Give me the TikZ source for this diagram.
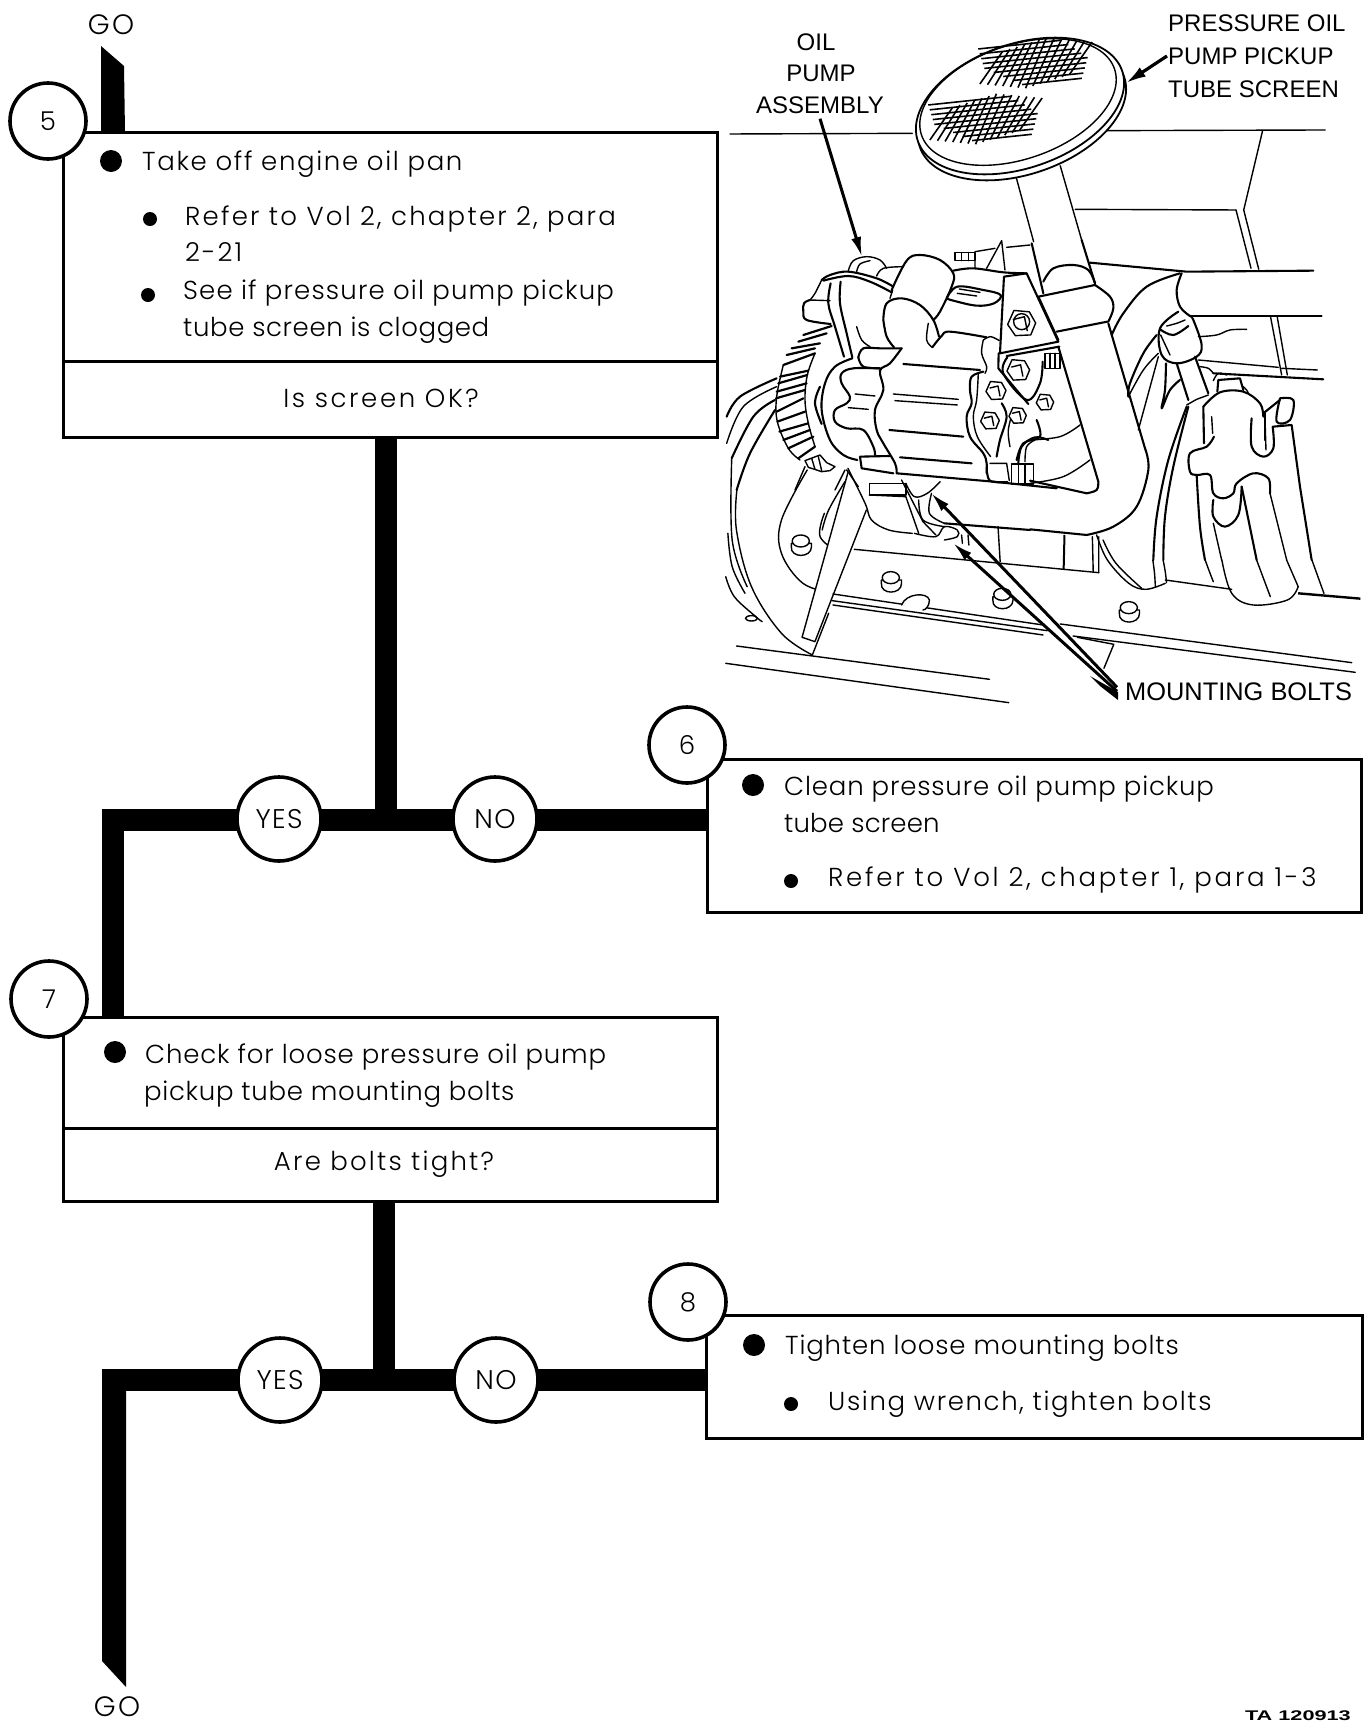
\documentclass[tikz,border=0pt]{standalone}
\usepackage{fontspec}
\usetikzlibrary{arrows.meta}
\setmainfont{Poppins Light}
\newfontfamily\lab{Liberation Sans}
\newfontfamily\tafont[FakeStretch=1.55]{Liberation Sans Bold}
\newcommand{\ls}[1]{\addfontfeature{LetterSpace=#1}}
\tikzset{
 flow/.style={line width=22pt,line cap=butt,line join=miter},
 boxx/.style={draw,line width=3pt,fill=white},
 num/.style={circle,draw,line width=3.6pt,fill=white,minimum size=76pt,inner sep=0pt,font=\fontsize{26}{26}\selectfont},
 ans/.style={circle,draw,line width=3.6pt,fill=white,minimum size=84pt,inner sep=0pt,font=\fontsize{27}{27}\selectfont\ls{5}},
 tx/.style={anchor=base west,inner sep=0pt,font=\fontsize{26}{26}\selectfont},
 cx/.style={anchor=center,inner sep=0pt,font=\fontsize{26}{26}\selectfont},
 big/.style={fill=black,circle,inner sep=0pt,minimum size=22pt},
 small/.style={fill=black,circle,inner sep=0pt,minimum size=14pt},
 gotx/.style={inner sep=0pt,font=\fontsize{28}{28}\selectfont\ls{8}},
 lbl/.style={inner sep=1pt,font=\lab\fontsize{24}{24}\selectfont},
 ill/.style={line width=1.4pt,line cap=round,line join=round},
 thk/.style={line width=2.1pt,line cap=round,line join=round},
 illf/.style={ill,fill=white},
 lead/.style={line width=3pt,-{Latex[length=20pt,width=10pt]}},
 zoneA/.style={shift={(700,0)},x=0.4288pt,y=-0.3333pt},
 zoneB/.style={shift={(700,380)},x=0.4288pt,y=-0.3333pt},
 zoneC/.style={shift={(720,240)},x=0.3333pt,y=-0.3333pt},
 zoneD/.style={shift={(1030,240)},x=0.3333pt,y=-0.3333pt},
}
\newcommand{\curv}[1]{\draw[ill] plot[smooth,tension=.6] coordinates {#1};}
\newcommand{\curt}[1]{\draw[thk] plot[smooth,tension=.6] coordinates {#1};}
\newcommand{\hexz}[3]{\draw[illf] (#1-#3,#2+.15*#3)--(#1-.55*#3,#2-.85*#3)--(#1+.55*#3,#2-.75*#3)--(#1+#3,#2+.05*#3)--(#1+.65*#3,#2+.9*#3)--(#1-.45*#3,#2+.95*#3)--cycle; \draw[ill] (#1-.6*#3,#2-.2*#3)--(#1+.2*#3,#2-.4*#3)--(#1+.4*#3,#2+.6*#3);}
\begin{document}
\begin{tikzpicture}[x=1pt,y=-1pt]
\useasboundingbox (0,0) rectangle (1369,1722);
\fill[white] (0,0) rectangle (1369,1722);

% ---------- flow lines ----------
\fill (101,46) -- (124,66) -- (125,132) -- (101,132) -- cycle;
\draw[flow] (386,436) -- (386,820);
\draw[flow] (706,820) -- (102,820);
\draw[flow] (113,809) -- (113,1016);
\draw[flow] (384,1200) -- (384,1380);
\draw[flow] (706,1380) -- (102,1380);
\fill (102,1369) -- (126,1369) -- (126,1687) -- (102,1661) -- cycle;

% ---------- boxes ----------
\node[boxx,minimum width=654pt,minimum height=305pt,anchor=north west] (b5) at (62,131) {};
\draw[line width=3pt] (62,361) -- (716,361);
\node[boxx,minimum width=654pt,minimum height=153pt,anchor=north west] (b6) at (706,758) {};
\node[boxx,minimum width=654pt,minimum height=184pt,anchor=north west] (b7) at (62,1016) {};
\draw[line width=3pt] (62,1128) -- (716,1128);
\node[boxx,minimum width=656pt,minimum height=123pt,anchor=north west] (b8) at (705,1314) {};

% ---------- circles ----------
\node[num] (c5) at (48,121) {5};
\node[num] (c6) at (687,745) {6};
\node[num] (c7) at (49,999) {7};
\node[num] (c8) at (688,1302) {8};
\node[ans] (y1) at (279,819) {YES};
\node[ans] (n1) at (495,819) {NO};
\node[ans] (y2) at (280,1380) {YES};
\node[ans] (n2) at (496,1380) {NO};

% ---------- GO ----------
\node[gotx] (go1) at (111,25) {GO};
\node[gotx] (go2) at (117,1707) {GO};

% ---------- text ----------
\node[big] (d5) at (111,161) {};
\node[tx] (t51) at (142,170) {\ls{6.3}Take off engine oil pan};
\node[small] (d51) at (150,219) {};
\node[tx] (t52) at (185,225) {\ls{8.6}Refer to Vol 2, chapter 2, para};
\node[tx] (t53) at (185,261) {\ls{8}2-21};
\node[small] (d52) at (148,295) {};
\node[tx] (t54) at (183,299) {\ls{4.5}See if pressure oil pump pickup};
\node[tx] (t55) at (183,336) {\ls{2.4}tube screen is clogged};
\node[cx] (q5) at (381,398) {\ls{10}Is screen OK?};

\node[big] (d6) at (753,785) {};
\node[tx] (t61) at (784,795) {\ls{3.2}Clean pressure oil pump pickup};
\node[tx] (t62) at (784,832) {\ls{0.6}tube screen};
\node[small] (d61) at (791,881) {};
\node[tx] (t63) at (828,886) {\ls{10.7}Refer to Vol 2, chapter 1, para 1-3};

\node[big] (d7) at (115,1052) {};
\node[tx] (t71) at (145,1063) {\ls{3.2}Check for loose pressure oil pump};
\node[tx] (t72) at (144,1100) {\ls{2.7}pickup tube mounting bolts};
\node[cx] (q7) at (384,1164) {\ls{8.5}Are bolts tight?};

\node[big] (d8) at (754,1345) {};
\node[tx] (t81) at (785,1354) {\ls{3.2}Tighten loose mounting bolts};
\node[small] (d81) at (791,1404) {};
\node[tx] (t82) at (828,1410) {\ls{6.3}Using wrench, tighten bolts};

\node[font=\tafont\fontsize{14}{14}\selectfont,anchor=base east,inner sep=0pt] (ta) at (1351,1720) {TA 120913};

% ---------- illustration: wall and stem ----------
\begin{scope}[zoneA]
\draw[ill] (70,402)--(495,400);
\draw[ill] (945,392)--(1458,390);
\draw[ill] (738,535)--(778,725);
\draw[ill] (840,497)--(890,720);
\draw[ill] (875,628)--(1250,630);
\draw[ill] (1312,392)--(1268,630)--(1303,808);
\draw[ill] (1250,630)--(1285,805);
\end{scope}

% ---------- screen ----------
\draw[illf,line width=1.8pt] (1022,112) ellipse [x radius=108,y radius=62,rotate=19];
\draw[illf,line width=1.8pt] (1020,106) ellipse [x radius=108,y radius=62,rotate=19];
\draw[ill] (1018,102) ellipse [x radius=102,y radius=57,rotate=19];
\foreach \cx/\cy in {1036/63,986/119}{
\begin{scope}[shift={(\cx,\cy)},rotate=6]
 \foreach \i in {-4,...,4}{
   \draw[line width=1.6pt] ({-52+abs(\i)*4+\i*5},{\i*5}) -- ({52-abs(\i)*4+\i*2},{\i*5});
 }
 \foreach \i in {-6,...,6}{
   \draw[line width=1.6pt] ({\i*7.5+13},{-24+abs(\i)*1.5}) -- ({\i*7.5-13},{24-abs(\i)*1.5});
 }
\end{scope}}

% ---------- pump, left ----------
\begin{scope}[zoneC]
% small bolt and blade
\draw[illf] (705,38) rectangle (765,62);
\draw[ill] (725,38)--(725,62) (745,38)--(745,62);
\draw[ill] (765,35)--(825,25) (765,62)--(765,85);
\draw[illf] (800,85)--(845,2)--(855,90);
\draw[ill] (860,22)--(930,15);
% top lumps and band
\curv{(385,92)(400,62)(440,50)(480,60)(500,85)}
\curv{(410,95)(420,72)(450,62)}
\curv{(470,108)(490,85)(550,80)}
\curt{(305,120)(330,105)(385,95)(470,115)(520,140)}
\curt{(310,122)(385,108)(450,125)(515,157)}
\curv{(305,120)(285,160)(270,180)}
\curt{(270,180)(252,190)(250,215)(260,240)(332,252)}
\draw[ill] (270,180)--(330,182);
\curt{(332,130)(325,190)(345,260)(372,350)}
\curt{(362,125)(360,190)(380,280)(397,352)}
\curv{(410,260)(425,300)(450,320)}
% big lobes
\curt{(515,150)(560,62)(600,45)(660,60)(700,100)(695,140)(660,215)(640,240)}
\curt{(490,240)(500,190)(545,175)(600,195)(640,240)(657,290)}
\curt{(490,240)(500,290)(522,322)}
\curv{(625,250)(620,300)(637,322)}
\draw[ill] (510,175)--(518,150);
\curt{(700,92)(760,85)(850,97)(920,100)}
\curt{(680,175)(712,140)(790,150)(842,165)(822,190)(770,197)(700,182)(680,175)}
\draw[ill] (718,147)--(780,157) (712,160)--(770,168);
% bracket
\draw[thk] (852,110)--(920,100)--(1015,305)--(840,340)--cycle;
\draw[thk] (1018,320)--(860,348);
\draw[thk] (836,340)--(835,385)--(925,492);
\curt{(862,352)(850,400)(920,480)(960,430)(968,365)}
\hexz{905}{247}{42}
\draw[ill] (905,245) circle [radius=24];
\hexz{895}{388}{34}
\draw[illf] (975,340) rectangle (1020,385);
\draw[ill] (990,340)--(990,385) (1005,340)--(1005,385);
% fin body
\curt{(637,322)(665,288)(690,275)(800,292)}
\curv{(790,300)(812,290)(838,302)}
\curv{(790,300)(785,340)(800,380)(795,400)}
\draw[thk] (550,372)--(780,390);
\draw[ill] (520,462)--(715,478) (525,482)--(712,495) (405,462)--(465,468) (385,503)--(445,508);
\draw[thk] (508,570)--(730,590);
\draw[thk] (540,652)--(755,670);
% scallops
\curt{(415,352)(430,325)(480,325)(545,325)}
\curt{(415,352)(430,380)(480,385)}
\curt{(545,325)(510,370)(480,392)(490,450)(465,510)(470,570)(490,610)(525,670)(530,700)}
\curt{(480,385)(400,385)(365,400)(365,430)(390,470)(380,490)(345,510)(345,545)(380,565)(430,570)(460,620)(465,645)}
\curt{(397,355)(345,380)(315,430)(305,510)(330,600)(370,645)(412,660)}
\curt{(300,440)(285,490)(305,552)}
\draw[thk] (420,650)--(510,648) (420,650)--(425,685)--(520,700);
% right scallops and bolts
\curt{(790,395)(755,410)(750,450)(755,490)(740,530)(750,590)(790,640)(800,670)(800,700)}
\curv{(775,400)(770,480)(760,530)(772,590)(812,650)}
\curt{(845,490)(860,530)(840,600)(830,650)}
\curv{(870,620)(865,570)(880,510)}
\curt{(950,540)(960,590)(910,610)(890,660)}
\hexz{828}{450}{30}
\hexz{810}{540}{28}
\hexz{893}{525}{26}
\hexz{975}{485}{26}
% clamp under bolts
\curt{(895,670)(905,620)(945,592)(985,600)}
\curv{(945,600)(920,620)(915,665)}
\curt{(800,680)(810,722)(862,726)}
\draw[ill] (810,670)--(860,670) (860,670)--(868,722);
\draw[illf] (875,672) rectangle (940,732);
\draw[ill] (895,672)--(895,732) (915,672)--(915,732);
\draw[thk] (530,700)--(820,725)--(1010,745);
% gear
\foreach \a/\b/\c/\d in {250/285/335/258,235/305/320/280,215/325/300/310,200/345/285/325,190/375/285/340,180/410/265/392,175/430/262/405,170/455/260/430,168/475/255/450,170/515/250/475,172/545/255/515,178/575/265/550,190/600/270/570,205/625/280/590,235/655/285/620}{
 \draw[line width=2.2pt,line cap=round] (\a,\b)--(\c,\d);
}
\curv{(190,375)(170,470)(172,545)(205,625)(240,660)}
\curv{(285,340)(262,405)(255,480)(265,550)(285,620)}
\draw[illf] (255,662)--(300,645)--(320,668)--(345,680)--(330,692)--(305,695)--(265,682)--cycle;
\draw[ill] (275,655)--(285,688) (295,650)--(305,692);
% wheel arcs
\curt{(20,530)(60,470)(170,415)}
\curv{(20,610)(70,500)(170,440)}
\curt{(35,655)(100,530)(165,480)}
\curt{(50,750)(90,640)(165,510)}
\draw[ill] (225,750)--(255,680);
\draw[ill] (345,750)--(375,690) (380,690)--(415,740);
\end{scope}

% ---------- pipes and coupling, right ----------
\begin{scope}[zoneD]
\draw[thk] (5,10)--(40,160);
\draw[thk] (155,0)--(195,130);
\curt{(40,125)(70,85)(130,75)(175,90)(195,130)}
\draw[thk] (25,170)--(195,135);
\curt{(195,135)(240,170)(250,205)(235,245)}
\draw[thk] (80,275)--(232,245);
\draw[thk] (25,170)--(85,300);
\draw[thk] (235,250)--(345,625);
\curt{(345,625)(355,690)(320,800)(250,860)(170,885)}
\draw[thk] (85,320)--(205,725);
\curt{(205,725)(200,750)(170,760)}
\draw[thk] (0,722)--(170,760);
\draw[thk] (0,868)--(170,885);
\draw[thk] (180,68)--(470,95)--(850,92);
\curt{(455,100)(440,150)(450,200)(480,228)}
\draw[thk] (480,228)--(875,228);
\curt{(450,100)(350,140)(280,220)(245,285)}
\draw[ill] (722,232)--(755,405) (742,232)--(772,405);
\curv{(505,290)(560,285)(600,270)(650,268)}
\draw[ill] (505,360)--(745,382) (755,385)--(862,390);
\draw[thk] (550,400)--(880,418);
\curv{(510,380)(535,385)(550,400)}
% coupling neck
\curt{(445,215)(390,265)(395,345)(440,370)(500,350)(515,315)(490,240)(480,228)}
\curt{(390,268)(430,285)(475,258)}
\curv{(410,258)(440,250)(465,240)}
\draw[ill] (392,285)--(420,345);
\draw[thk] (440,370)--(475,480);
\draw[thk] (495,350)--(535,460);
\curt{(380,285)(340,340)(300,430)(295,470)}
\curv{(385,340)(340,390)(295,470)}
\draw[ill] (385,350)--(325,570);
\curt{(408,370)(405,450)(395,505)(420,450)(450,420)}
\draw[ill] (470,495)--(500,478)--(535,465);
% hose sides
\curt{(470,500)(415,660)(380,830)(370,960)}
\curt{(475,500)(430,680)(405,830)(400,960)}
% coupling body
\curt{(520,500)(570,457)(640,455)(690,490)(700,530)}
\curt{(520,500)(522,610)}
\curt{(552,590)(530,620)(480,640)(480,695)(500,705)(540,705)(550,760)(580,775)(610,760)(620,730)(670,700)(715,715)(720,760)}
\draw[ill] (545,530)--(548,580);
\draw[thk] (562,455)--(565,420)--(630,415)--(640,450);
\curv{(640,440)(650,450)(655,460)}
\curv{(550,422)(565,400)(590,405)}
\curt{(665,535)(665,620)(700,650)(730,625)(728,560)}
\draw[ill] (705,535)--(708,630);
\draw[thk] (700,520)--(750,480);
\draw[thk] (705,520)--(705,600);
\curt{(750,475)(790,480)(780,540)(740,545)(750,475)}
\draw[thk] (730,560)--(785,555)--(810,740)--(845,960);
\curt{(500,705)(510,860)(525,960)}
\curt{(550,780)(550,830)(585,860)(625,825)(635,740)}
\draw[thk] (635,740)--(680,960);
\draw[ill] (720,760)--(770,960);
\draw[ill] (550,850)--(575,960);
% curves under right bolts
\curv{(0,600)(90,590)(150,555)}
\curv{(0,730)(100,710)(180,660)}
\end{scope}

% ---------- lower part ----------
\begin{scope}[zoneB]
% wheel
\curv{(86,330)(85,450)(120,620)(190,760)(262,825)}
\curv{(74,234)(75,480)(110,620)}
\curv{(65,460)(75,560)(105,640)}
\curv{(60,590)(80,650)(130,710)(145,725)}
\draw[ill] (120,715) circle [x radius=14,y radius=8];
\curv{(345,265)(385,370)(400,420)(440,450)(495,460)}
% big bent pipe continuation
\draw[thk] (570,430)--(770,450);
% clamp foot
\draw[illf] (395,310) rectangle (480,345);
\draw[ill] (395,345) -- (480,350) -- (510,460) (470,300)--(520,425)--(550,465);
\curv{(480,310)(500,350)(530,340)(560,305)}
\curv{(510,360)(520,420)(570,440)}
\curv{(540,340)(535,400)(570,430)}
\curv{(500,460)(550,470)(570,440)(600,450)(600,470)(570,480)}
\draw[ill] (610,465)--(612,490) (625,465)--(627,495);
% plate
\curv{(250,270)(190,420)(190,520)(240,610)(310,640)}
\curv{(290,400)(280,470)(325,520)}
\curv{(338,305)(300,390)(285,450)}
% bar
\draw[illf] (345,278)--(238,772)--(268,785)--(388,390);
\draw[ill] (300,700)--(262,825);
% rails
\draw[ill] (360,508)--(930,578);
\draw[ill] (1085,600)--(1240,628);
\draw[line width=2.4pt] (1395,640)--(1540,656);
\draw[ill] (310,642)--(800,735);
\draw[ill] (840,732)--(1520,848);
\draw[ill] (308,662)--(810,752);
\draw[ill] (310,675)--(800,765);
\draw[ill] (870,768)--(1528,877);
\draw[ill] (880,772)--(965,793)--(942,865);
\draw[ill] (85,798)--(675,898);
\draw[ill] (60,850)--(720,968);
\draw[ill] (695,440)--(700,545);
\draw[line width=2pt] (850,465)--(848,570);
\draw[ill] (915,470)--(917,575) (930,470)--(930,578);
\curv{(925,465)(950,540)(1000,610)(1040,628)(1085,610)}
\curv{(940,480)(970,550)(1030,625)}
\curv{(1056,540)(1060,580)(1062,622)}
\curv{(1080,540)(1085,575)(1088,608)}
% hose and coupling bottom
\curv{(1178,540)(1188,575)(1197,605)}
\curv{(1217,540)(1240,640)(1290,675)(1370,660)(1395,620)}
\draw[ill] (1298,540)--(1330,650) (1368,540)--(1395,620) (1427,540)--(1455,640);
% rivets
\foreach \rx/\ry in {235/495,445/605,705/655,1000/695}{
  \draw[illf] (\rx-22,\ry+5) .. controls (\rx-25,\ry+40) and (\rx+25,\ry+40) .. (\rx+25,\ry+5) -- (\rx+25,\ry-5) -- (\rx-22,\ry-5) -- cycle;
  \draw[illf] (\rx,\ry-12) ellipse [x radius=20,y radius=18];
}
\draw[illf] (470,675) .. controls (480,640) and (530,635) .. (535,660) .. controls (535,680) and (525,690) .. (520,690);
\end{scope}

% ---------- illustration labels and leaders ----------
\node[lbl] (l1) at (816,42) {OIL};
\node[lbl] (l2) at (821,73) {PUMP};
\node[lbl,inner sep=5pt] (l3) at (820,105) {ASSEMBLY};
\node[lbl,anchor=west] (l4) at (1167,23) {PRESSURE OIL};
\node[lbl,anchor=west] (l5) at (1167,56) {PUMP PICKUP};
\node[lbl,anchor=west] (l6) at (1167,89) {TUBE SCREEN};
\node[lbl,anchor=base west,inner sep=0pt,font=\lab\fontsize{25.4}{25}\selectfont] (l7) at (1125,700) {MOUNTING BOLTS};
\coordinate (aA) at (862,257);
\coordinate (aB) at (1126,83);
\coordinate (aC) at (931,493);
\coordinate (aD) at (953,543);
\coordinate (aS) at (1100,686);
\draw[lead] (l3.south) -- (aA);
\draw[lead,line width=3.2pt,-{Latex[length=20pt,width=11pt]}] (l5.west) -- (aB);
\fill (aS) -- (1118,700) -- (1118,692) -- (1090,676) -- cycle;
\draw[lead] (l7.west) ++(-8,-4) -- (aC);
\draw[lead] (l7.west) ++(-8,0) -- (aD);
\end{tikzpicture}
\end{document}
